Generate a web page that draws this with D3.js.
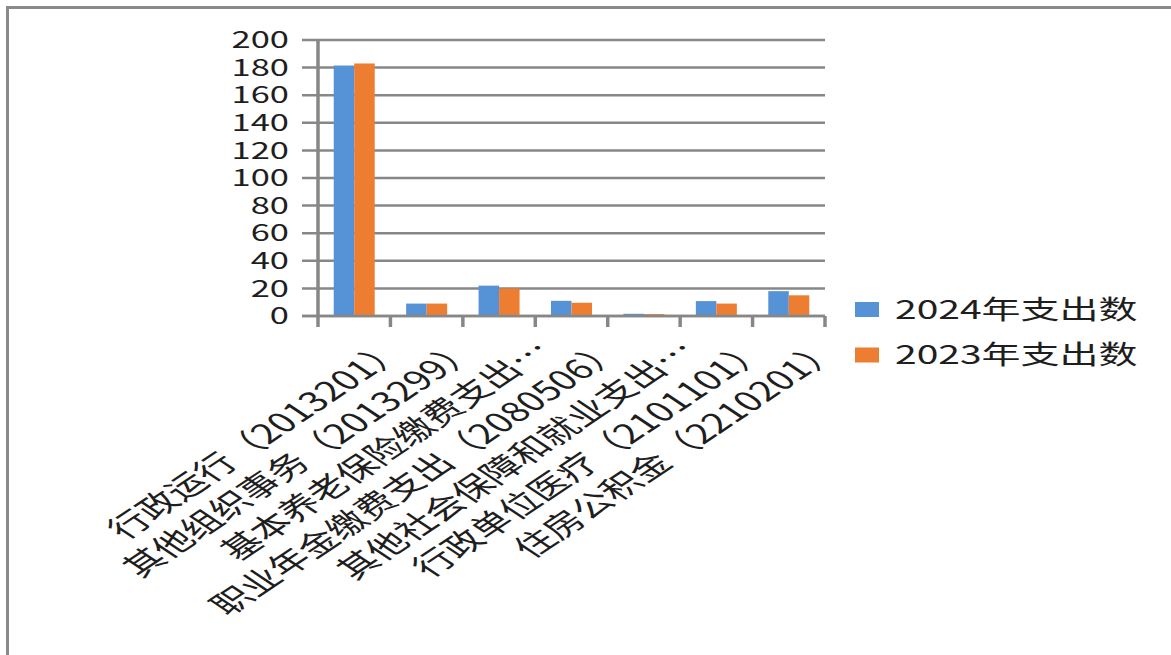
<!DOCTYPE html>
<html>
<head>
<meta charset="utf-8">
<script src="https://cdn.jsdelivr.net/npm/d3@7"></script>
<style>
	body { margin: 0; background: #fff; }
	text { font-family: "Noto Sans CJK SC", "Noto Sans", sans-serif; fill: #1e1e1e; }
</style>
</head>
<body>
<div id="bar-chart"></div>
<script>

// Data
var categories = ["行政运行（2013201）", "其他组织事务（2013299）", "基本养老保险缴费支出…",
	"职业年金缴费支出（2080506）", "其他社会保障和就业支出…", "行政单位医疗（2101101）",
	"住房公积金（2210201）"];

var seriesNames = ["2024年支出数", "2023年支出数"];

var values2024 = [181.5, 9, 22, 11, 1.6, 10.8, 18];
var values2023 = [183, 9, 20, 9.6, 1.4, 9, 15];

var yTicks = [0, 20, 40, 60, 80, 100, 120, 140, 160, 180, 200];

var colors = ["#5592d6", "#ed7d31"];

// the picture is stretched sideways, so text is widened too
var stretch = 1.5;

var width = 1171, height = 655;

var svg = d3.select("#bar-chart").append("svg")
	.attr("width", width)
	.attr("height", height);

// outer frame
svg.append("rect")
	.attr("x", 7.5)
	.attr("y", 7.5)
	.attr("width", width + 20)
	.attr("height", height + 20)
	.attr("fill", "none")
	.attr("stroke", "#8a8a8a")
	.attr("stroke-width", 3);

var plot = {left: 318, right: 825, top: 40, bottom: 316};

// Scales
var x0 = d3.scaleBand()
	.domain(categories)
	.range([plot.left, plot.right])
	.paddingInner(0.434)
	.paddingOuter(0.217);

var x1 = d3.scaleBand()
	.domain(seriesNames)
	.range([0, x0.bandwidth()]);

var y = d3.scaleLinear()
	.domain([0, 200])
	.range([plot.bottom, plot.top]);

// Gridlines + y ticks (they poke out left of the axis)
svg.append("g")
	.selectAll("line")
	.data(yTicks)
	.enter().append("line")
	.attr("x1", plot.left - 16)
	.attr("x2", plot.right)
	.attr("y1", function(d) { return y(d); })
	.attr("y2", function(d) { return y(d); })
	.attr("stroke", "#878787")
	.attr("stroke-width", 2.5);

// y axis line
svg.append("line")
	.attr("x1", plot.left)
	.attr("x2", plot.left)
	.attr("y1", y(200))
	.attr("y2", y(0) + 1)
	.attr("stroke", "#878787")
	.attr("stroke-width", 3.5);

// y tick labels
svg.append("g")
	.selectAll("text")
	.data(yTicks)
	.enter().append("text")
	.attr("transform", function(d) {
		return "translate(" + 289 + "," + y(d) + ") scale(" + stretch + ",1)";
	})
	.attr("dy", "0.36em")
	.attr("font-size", "23px")
	.style("text-anchor", "end")
	.text(function(d) { return d; });

// x ticks at category boundaries
var step = x0.step();
var edges = categories.map(function(c) { return x0(c) - (step - x0.bandwidth()) / 2; });
edges.push(edges[edges.length - 1] + step);

svg.append("g")
	.selectAll("line")
	.data(edges)
	.enter().append("line")
	.attr("x1", function(d) { return d; })
	.attr("x2", function(d) { return d; })
	.attr("y1", y(0))
	.attr("y2", y(0) + 11)
	.attr("stroke", "#878787")
	.attr("stroke-width", 3.5);

// Bars
var rows = categories.map(function(c, i) {
	return {cat: c, vals: [values2024[i], values2023[i]]};
});

var groups = svg.selectAll(".cat")
	.data(rows)
	.enter().append("g")
	.attr("class", "cat")
	.attr("transform", function(d) { return "translate(" + x0(d.cat) + ",0)"; });

groups.selectAll("rect")
	.data(function(d) { return d.vals; })
	.enter().append("rect")
	.attr("x", function(d, i) { return x1(seriesNames[i]); })
	.attr("y", function(d) { return y(d); })
	.attr("width", x1.bandwidth())
	.attr("height", function(d) { return y(0) - y(d); })
	.attr("fill", function(d, i) { return colors[i]; });

// x-axis line on top of the bars
svg.append("line")
	.attr("x1", plot.left - 16)
	.attr("x2", plot.right)
	.attr("y1", y(0))
	.attr("y2", y(0))
	.attr("stroke", "#878787")
	.attr("stroke-width", 2.5);

// Category labels, rotated
svg.append("g")
	.selectAll("text")
	.data(categories)
	.enter().append("text")
	.attr("transform", function(d) {
		var cx = x0(d) + x0.bandwidth() / 2;
		return "translate(" + (cx + 54) + "," + 352 + ") scale(" + stretch + ",1) rotate(-45)";
	})
	.attr("font-size", "27px")
	.style("text-anchor", "end")
	.text(function(d) { return d; });

// Legend
var legend = svg.append("g")
	.selectAll("g")
	.data(seriesNames)
	.enter().append("g")
	.attr("transform", function(d, i) { return "translate(855," + (302 + i * 45.5) + ")"; });

legend.append("rect")
	.attr("width", 24)
	.attr("height", 15)
	.attr("fill", function(d, i) { return colors[i]; });

legend.append("text")
	.attr("transform", "translate(40,7.5) scale(" + stretch + ",1)")
	.attr("dy", "0.36em")
	.attr("font-size", "26px")
	.text(function(d) { return d; });

</script>
</body>
</html>
